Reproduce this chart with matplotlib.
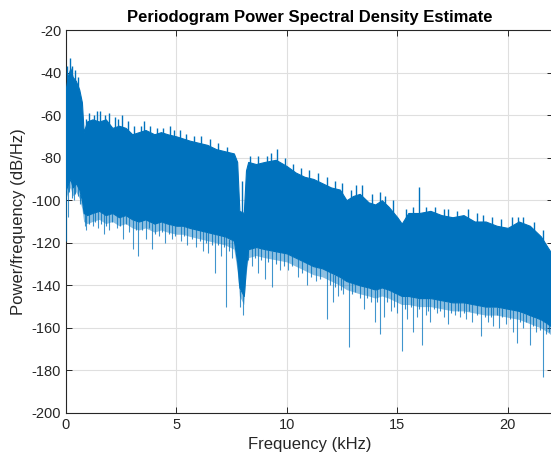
"""
    periodogram PSD estimate - redrawn from envelope + spike readings
"""

import numpy as np
import matplotlib
matplotlib.use("Agg")
import matplotlib.pyplot as plt
matplotlib.rcParams['font.family'] = ["Liberation Sans", "DejaVu Sans"]
matplotlib.rcParams['axes.unicode_minus'] = False

# %% values (kHz, dB/Hz)
envFreq = [0.0, 0.1, 0.2, 0.3, 0.45, 0.6, 0.72, 0.8, 0.95, 1.2, 1.5, 1.8, 2.1, 2.4, 2.7,
           3.0, 3.3, 3.6, 4.0, 4.3, 4.6, 5.0, 5.3, 5.6, 6.0, 6.4, 6.8, 7.2, 7.6, 7.75,
           7.85, 8.05, 8.15, 8.25, 8.6, 9.0, 9.5, 10.0, 10.4, 10.8, 11.2, 11.6, 12.0,
           12.4, 12.7, 13.0, 13.3, 13.7, 14.0, 14.3, 14.6, 15.0, 15.2, 15.5, 16.0, 16.5,
           17.0, 17.5, 18.0, 18.5, 19.0, 19.5, 20.0, 20.5, 21.0, 21.5, 21.8, 22.05]
envUpper = [-47, -41, -38, -42, -44, -48, -54, -68, -63, -62, -63, -62, -66, -65, -66,
            -69, -68, -67, -69, -68, -69, -70, -71, -72, -73, -74, -76, -77, -78, -82,
            -105, -106, -86, -82, -83, -82, -81, -84, -87, -89, -90, -92, -94,
            -95, -100, -98, -97, -101, -102, -100, -103, -108, -111, -106, -106, -105,
            -107, -108, -107, -110, -110, -112, -113, -110, -112, -117, -122, -126]
envLower = [-95, -92, -90, -94, -92, -95, -100, -106, -107, -106, -105, -107, -106, -108, -107,
            -109, -110, -109, -111, -110, -111, -112, -112, -113, -114, -115, -116, -117, -119, -129,
            -141, -145, -131, -123, -122, -123, -124, -125, -127, -129, -131, -132, -134,
            -136, -138, -139, -140, -141, -142, -141, -142, -144, -145, -145, -146, -146,
            -147, -148, -148, -149, -150, -150, -151, -152, -154, -156, -158, -160]

# deep dips below the band
dipFreq = [0.02, 0.08, 0.35, 0.55, 0.85, 0.92, 1.2, 1.45, 1.7, 1.95, 2.3, 2.6, 2.85,
           3.05, 3.27, 3.6, 3.9, 4.2, 4.5, 4.8, 5.2, 5.5, 5.9, 6.2, 6.45, 6.75, 7.0,
           7.25, 7.5, 7.9, 8.0, 8.4, 8.7, 9.0, 9.33, 9.7, 10.06, 10.5, 10.9, 11.3, 11.8,
           12.1, 12.3, 12.55, 12.8, 13.1, 13.5, 13.8, 14.0, 14.2, 14.4, 14.7, 15.0, 15.2,
           15.45, 15.7, 15.9, 16.1, 16.3, 16.5, 16.8, 17.1, 17.3, 17.6, 17.85, 18.1, 18.4,
           18.8, 19.1, 19.35, 19.6, 19.9, 20.25, 20.4, 20.7, 21.0, 21.3, 21.6, 21.85]
dipDepth = [-119, -108, -100, -98, -112, -114, -112, -113, -116, -114, -113, -118, -115,
            -123, -126, -118, -123, -117, -120, -118, -119, -121, -122, -124, -125, -134, -126,
            -150, -127, -150, -154, -131, -134, -137, -141, -133, -133, -136, -140, -138, -156,
            -148, -145, -144, -169, -143, -151, -148, -157, -163, -155, -152, -153, -171,
            -156, -162, -155, -168, -154, -157, -153, -155, -158, -154, -155, -156, -157,
            -164, -157, -159, -160, -158, -162, -167, -160, -168, -162, -183, -162]

# small dips making the fuzzy lower edge
fuzzFreq = [0.15, 0.25, 0.42, 0.65, 1.05, 1.32, 1.6, 1.82, 2.1, 2.45, 2.72, 3.15, 3.45, 3.75,
            4.05, 4.35, 4.65, 4.95, 5.35, 5.7, 6.05, 6.35, 6.6, 6.9, 7.15, 7.4, 8.25, 8.55,
            8.85, 9.15, 9.5, 9.85, 10.25, 10.7, 11.1, 11.5, 11.95, 12.2, 12.45, 12.95, 13.3,
            13.65, 14.1, 14.55, 14.85, 15.35, 15.6, 16.0, 16.4, 16.65, 16.95, 17.45, 17.75,
            18.0, 18.25, 18.6, 18.95, 19.25, 19.5, 19.75, 20.1, 20.55, 20.85, 21.15, 21.45, 21.75]
fuzzDepth = [-96, -99, -97, -102, -111, -110, -111, -112, -110, -112, -111, -114, -114, -113,
             -116, -115, -116, -117, -117, -118, -119, -120, -121, -121, -122, -124, -128, -127,
             -128, -129, -130, -131, -131, -134, -136, -137, -140, -141, -142, -144, -146,
             -146, -148, -148, -150, -151, -150, -151, -152, -151, -152, -153, -152,
             -153, -152, -154, -155, -155, -154, -155, -156, -157, -157, -159, -161, -163]

# peaks along the upper edge
peakFreq = [0.05, 0.18, 0.25, 0.4, 0.55, 0.9, 1.05, 1.25, 1.4, 1.55, 1.75, 1.95, 2.2, 2.35,
            2.55, 2.8, 3.1, 3.4, 3.55, 3.8, 4.1, 4.4, 4.7, 4.9, 5.15, 5.45, 5.8, 6.1, 6.5,
            6.9, 7.3, 7.95, 8.35, 8.7, 9.1, 9.3, 9.55, 9.9, 10.3, 10.65, 11.0, 11.4, 11.8,
            12.2, 12.5, 12.9, 13.15, 13.4, 13.85, 14.2, 14.45, 14.8, 15.4, 15.7, 16.0,
            16.3, 16.7, 17.1, 17.3, 17.7, 18.2, 18.6, 18.9, 19.3, 19.7, 20.2, 20.45, 20.7,
            21.2, 21.6]
peakDb = [-37, -33, -37, -39, -42, -62, -59, -60, -58, -58, -60, -59, -61, -62,
          -60, -63, -65, -65, -63, -65, -66, -66, -65, -67, -67, -69, -70, -70, -71,
          -73, -75, -91, -79, -79, -79, -78, -76, -80, -83, -85, -86, -87, -89,
          -91, -92, -95, -93, -93, -97, -96, -98, -100, -104, -103, -94,
          -103, -103, -104, -104, -105, -104, -106, -107, -108, -109, -108, -108, -108,
          -110, -114]

lineCol = "#0072BD"

# %%
fig = plt.figure(figsize=(5.51, 4.66), dpi=100)
ax = fig.add_axes([66/551, 53/466, 487/551, 383/466])

ax.fill_between(envFreq, envLower, envUpper, color=lineCol, lw=0.8, edgecolor=lineCol, zorder=3)
ax.fill_between(envFreq, np.array(envLower) - 4, envLower, color=lineCol, lw=0, alpha=0.45, zorder=3)

dipTop = np.interp(dipFreq, envFreq, envLower)
ax.vlines(dipFreq, dipDepth, dipTop, color=lineCol, lw=0.8, alpha=0.75, zorder=3)
fuzzTop = np.interp(fuzzFreq, envFreq, envLower)
ax.vlines(fuzzFreq, fuzzDepth, fuzzTop, color=lineCol, lw=0.8, alpha=0.8, zorder=3)
# peaks start inside the band so they join its edge
peakBase = np.interp(peakFreq, envFreq, envUpper) - 4
ax.vlines(peakFreq, peakBase, peakDb, color=lineCol, lw=1.0, zorder=3)

ax.set_xlim(0, 22.05)
ax.set_ylim(-200, -20)
ax.set_xticks([0, 5, 10, 15, 20])
ax.set_yticks(np.arange(-200, -19, 20))

ax.grid(True, color="#dfdfdf", lw=0.8, zorder=0)
ax.set_axisbelow(True)
ax.tick_params(direction="in", length=4, width=0.7, colors="#262626", labelsize=10.5,
               top=True, right=True)
for s in ax.spines.values():
    s.set_color("#262626")
    s.set_linewidth(0.8)

ax.set_xlabel("Frequency (kHz)", fontsize=12, color="#262626")
ax.set_ylabel("Power/frequency (dB/Hz)", fontsize=12, color="#262626")
ax.set_title("Periodogram Power Spectral Density Estimate", fontsize=12,
             fontweight="bold", color="black", pad=6)

plt.savefig("out.png", dpi=100)
